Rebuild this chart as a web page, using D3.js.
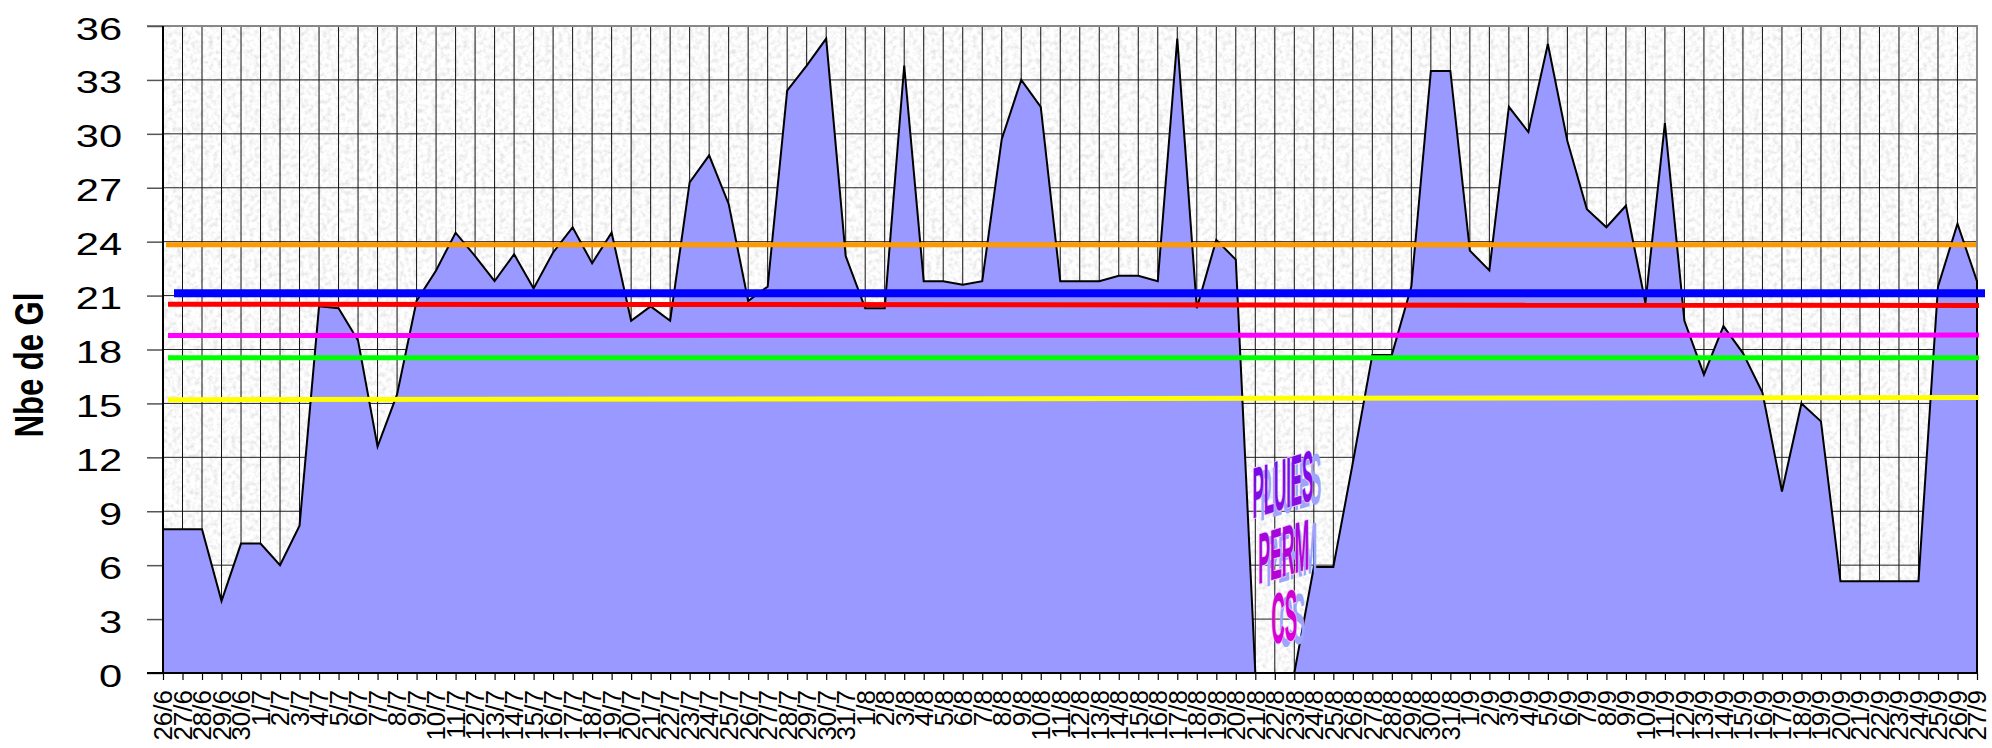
<!DOCTYPE html>
<html>
<head>
<meta charset="utf-8">
<script src="https://cdn.jsdelivr.net/npm/d3@7"></script>
<style>
  body { margin: 0; background: #fff; }
  text { font-family: "Liberation Sans", Arial, sans-serif; }
</style>
</head>
<body>
<div id="chart"></div>
<script>
// categories (jour/mois)
var dates = ["26/6","27/6","28/6","29/6","30/6",
  "1/7","2/7","3/7","4/7","5/7","6/7","7/7","8/7","9/7","10/7","11/7","12/7","13/7","14/7","15/7","16/7",
  "17/7","18/7","19/7","20/7","21/7","22/7","23/7","24/7","25/7","26/7","27/7","28/7","29/7","30/7","31/7",
  "1/8","2/8","3/8","4/8","5/8","6/8","7/8","8/8","9/8","10/8","11/8","12/8","13/8","14/8","15/8","16/8",
  "17/8","18/8","19/8","20/8","21/8","22/8","23/8","24/8","25/8","26/8","27/8","28/8","29/8","30/8","31/8",
  "1/9","2/9","3/9","4/9","5/9","6/9","7/9","8/9","9/9","10/9","11/9","12/9","13/9","14/9","15/9","16/9",
  "17/9","18/9","19/9","20/9","21/9","22/9","23/9","24/9","25/9","26/9","27/9"];

// Nbe de GI
var nbeGI = [8.0, 8.0, 8.0, 4.0, 7.2,
  7.2, 6.0, 8.2, 20.4, 20.3, 18.5, 12.6, 15.5, 20.7, 22.4, 24.5, 23.2, 21.8, 23.3, 21.4, 23.4,
  24.8, 22.8, 24.5, 19.6, 20.4, 19.6, 27.3, 28.8, 26.1, 20.7, 21.5, 32.4, 33.8, 35.3, 23.2,
  20.3, 20.3, 33.8, 21.8, 21.8, 21.6, 21.8, 29.7, 33.0, 31.5, 21.8, 21.8, 21.8, 22.1, 22.1, 21.8,
  35.3, 20.3, 24.1, 23.0, 0, 0, 0, 5.9, 5.9, 11.7, 17.7, 17.7, 21.5, 33.5, 33.5,
  23.5, 22.4, 31.5, 30.1, 35.0, 29.6, 25.8, 24.8, 26.0, 20.6, 30.6, 19.6, 16.6, 19.3, 17.8, 15.6,
  10.1, 15.0, 14.0, 5.1, 5.1, 5.1, 5.1, 5.1, 21.5, 25.0, 21.8];

// y ticks
var yTicks = [0, 3, 6, 9, 12, 15, 18, 21, 24, 27, 30, 33, 36];

// horizontal reference lines (value at left end, value at right end)
var refLeft  = [23.83, 21.13, 20.52, 18.78, 17.54, 15.21];
var refRight = [23.83, 21.13, 20.45, 18.80, 17.54, 15.33];

// annotation text
var noteLines = ["PLUIES", "PERM", "CS"];

// --- styles ---
var refColors = ["#FF9900", "#0000FF", "#FF0000", "#FF00FF", "#00FF00", "#FFFF00"];
var refWidths = [5, 8, 5, 5, 5, 5];
var refInsetL = [3, 11, 5, 5, 5, 5];
var refInsetR = [-1, 8, 2, 2, 2, 2];

var W = 1992, H = 748;
var margin = {top: 26, right: 15, bottom: 75, left: 163};

var svg = d3.select("#chart").append("svg")
    .attr("width", W)
    .attr("height", H);

var x = d3.scalePoint().domain(dates).range([margin.left, W - margin.right]);
var y = d3.scaleLinear().domain([0, 36]).range([H - margin.bottom, margin.top]);

var x0 = x.range()[0], x1 = x.range()[1];
var yb = y(0), yt = y(36);

// granite background
var defs = svg.append("defs");
var filt = defs.append("filter").attr("id", "granite")
    .attr("filterUnits", "userSpaceOnUse")
    .attr("x", x0).attr("y", yt).attr("width", x1 - x0).attr("height", yb - yt);
filt.append("feTurbulence")
    .attr("type", "fractalNoise")
    .attr("baseFrequency", "0.22")
    .attr("numOctaves", 3)
    .attr("seed", 4);
filt.append("feColorMatrix")
    .attr("type", "matrix")
    .attr("values", "0.5 0 0 0 0.7  0.5 0 0 0 0.7  0.5 0 0 0 0.7  0 0 0 0 1");

svg.append("rect")
    .attr("x", x0).attr("y", yt)
    .attr("width", x1 - x0).attr("height", yb - yt)
    .attr("fill", "#ececec")
    .attr("filter", "url(#granite)");

// grid
svg.append("g").selectAll("line")
    .data(yTicks.filter(function(d) { return d > 0 && d < 36; }))
  .enter().append("line")
    .attr("x1", x0).attr("x2", x1)
    .attr("y1", function(d) { return y(d); })
    .attr("y2", function(d) { return y(d); })
    .attr("stroke", "#222").attr("stroke-width", 1);

svg.append("g").selectAll("line")
    .data(dates)
  .enter().append("line")
    .attr("x1", function(d) { return x(d); })
    .attr("x2", function(d) { return x(d); })
    .attr("y1", yt).attr("y2", yb)
    .attr("stroke", "#111").attr("stroke-width", 1);

// frame top / right
svg.append("line").attr("x1", x0 - 16).attr("x2", x1 + 1).attr("y1", yt).attr("y2", yt)
    .attr("stroke", "#888").attr("stroke-width", 2);
svg.append("line").attr("x1", x1).attr("x2", x1).attr("y1", yt).attr("y2", yb)
    .attr("stroke", "#888").attr("stroke-width", 2);

// area
var area = d3.area()
    .x(function(d, i) { return x(dates[i]); })
    .y0(yb)
    .y1(function(d) { return y(d); });

svg.append("path")
    .datum(nbeGI)
    .attr("d", function(d) { return area(d) + "Z"; })
    .attr("fill", "#9999FF")
    .attr("stroke", "#000")
    .attr("stroke-width", 2)
    .attr("stroke-linejoin", "miter");

// y axis
var yAxis = svg.append("g")
    .attr("transform", "translate(" + x0 + ",0)")
    .call(d3.axisLeft(y).tickValues(yTicks).tickSize(16).tickPadding(0));
yAxis.select(".domain").remove();
yAxis.selectAll(".tick line").attr("stroke", "#555").attr("stroke-width", 1.5);
yAxis.selectAll(".tick text")
    .attr("x", -41 / 1.3)
    .attr("dy", 13)
    .attr("transform", "scale(1.3,1)")
    .attr("fill", "#000")
    .style("font-size", "32px");

// x axis
var xAxis = svg.append("g")
    .attr("transform", "translate(0," + yb + ")")
    .call(d3.axisBottom(x).tickSize(7).tickSizeOuter(0));
xAxis.select(".domain").remove();
xAxis.selectAll(".tick line").attr("stroke", "#000").attr("stroke-width", 1.2);
xAxis.selectAll(".tick text")
    .attr("transform", "rotate(-90)")
    .attr("x", -17)
    .attr("y", 0)
    .attr("dy", "0.34em")
    .attr("text-anchor", "end")
    .attr("fill", "#000")
    .style("font-size", "26px");

// axis lines
svg.append("line").attr("x1", x0 - 16).attr("x2", x1).attr("y1", yb).attr("y2", yb)
    .attr("stroke", "#000").attr("stroke-width", 2);
svg.append("line").attr("x1", x0).attr("x2", x0).attr("y1", yt).attr("y2", yb)
    .attr("stroke", "#000").attr("stroke-width", 2);

// reference lines
svg.append("g").selectAll("line")
    .data(refLeft)
  .enter().append("line")
    .attr("x1", function(d, i) { return x0 + refInsetL[i]; })
    .attr("x2", function(d, i) { return x1 + refInsetR[i]; })
    .attr("y1", function(d) { return y(d); })
    .attr("y2", function(d, i) { return y(refRight[i]); })
    .attr("stroke", function(d, i) { return refColors[i]; })
    .attr("stroke-width", function(d, i) { return refWidths[i]; });

// y title
svg.append("text")
    .attr("transform", "translate(43,365) rotate(-90) scale(1,1.3)")
    .attr("text-anchor", "middle")
    .style("font-size", "31px")
    .style("font-weight", "bold")
    .text("Nbe de Gl");

// "PLUIES PERM CS" word art
var noteGrad = [["#7008e8", "#9010e0"], ["#9a08dc", "#c000d4"], ["#c800d0", "#e000d8"]];
noteGrad.forEach(function(c, i) {
  var g = defs.append("linearGradient").attr("id", "ng" + i)
      .attr("x1", 0).attr("y1", 0).attr("x2", 0).attr("y2", 1);
  g.append("stop").attr("offset", "0%").attr("stop-color", c[0]);
  g.append("stop").attr("offset", "100%").attr("stop-color", c[1]);
});
var noteAnchor = [[55.85, 8.6], [56.15, 4.95], [56.82, 1.6]]; // [category index, value] of baseline start
var noteLen = [61, 51, 26];
var noteSkew = [-17, -16.5, -11];

var note = svg.append("g").selectAll("g")
    .data(noteLines)
  .enter().append("g")
    .attr("transform", function(d, i) {
      var px = x0 + noteAnchor[i][0] * x.step();
      return "translate(" + px + "," + y(noteAnchor[i][1]) + ") skewY(" + noteSkew[i] + ")";
    });
note.append("text")
    .attr("x", 8).attr("y", 5)
    .attr("textLength", function(d, i) { return noteLen[i]; })
    .attr("lengthAdjust", "spacingAndGlyphs")
    .style("font-size", "72px").style("font-weight", "bold")
    .attr("fill", "#9ea4fa")
    .text(function(d) { return d; });
note.append("text")
    .attr("textLength", function(d, i) { return noteLen[i]; })
    .attr("lengthAdjust", "spacingAndGlyphs")
    .style("font-size", "72px").style("font-weight", "bold")
    .attr("fill", function(d, i) { return "url(#ng" + i + ")"; })
    .attr("stroke", "#f0d0ff").attr("stroke-width", 2)
    .style("paint-order", "stroke")
    .text(function(d) { return d; });
</script>
</body>
</html>
